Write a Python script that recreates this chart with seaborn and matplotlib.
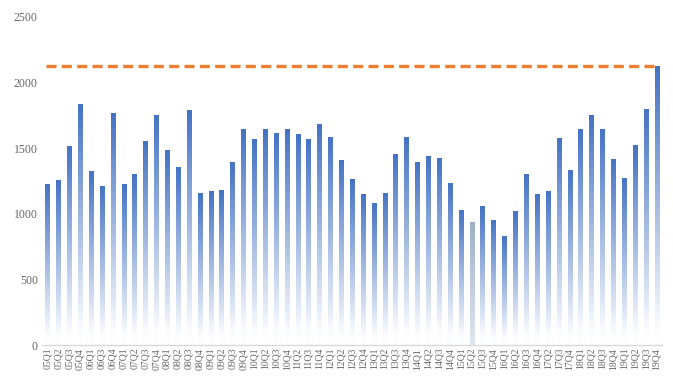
import numpy as np
import pandas as pd
import matplotlib
matplotlib.use("Agg")
import matplotlib.pyplot as plt
import seaborn as sns
from matplotlib.colors import LinearSegmentedColormap

quarters = ["05Q1", "05Q2", "05Q3", "05Q4", "06Q1", "06Q3", "06Q4",
            "07Q1", "07Q2", "07Q3", "07Q4", "08Q1", "08Q2", "08Q3", "08Q4",
            "09Q1", "09Q2", "09Q3", "09Q4", "10Q1", "10Q2", "10Q3", "10Q4",
            "11Q2", "11Q3", "11Q4", "12Q1", "12Q2", "12Q3", "12Q4",
            "13Q1", "13Q2", "13Q3", "13Q4", "14Q1", "14Q2", "14Q3", "14Q4",
            "15Q1", "15Q2", "15Q3", "15Q4", "16Q1", "16Q2", "16Q3", "16Q4",
            "17Q2", "17Q3", "17Q4", "18Q1", "18Q2", "18Q3", "18Q4",
            "19Q1", "19Q2", "19Q3", "19Q4"]
values = [1227, 1258, 1517, 1837, 1326, 1212, 1768,
          1227, 1303, 1555, 1753, 1486, 1357, 1791, 1158,
          1174, 1181, 1395, 1646, 1570, 1646, 1616, 1646,
          1608, 1570, 1684, 1585, 1410, 1265, 1151,
          1082, 1159, 1456, 1585, 1395, 1441, 1425, 1235,
          1029, 937, 1059, 953, 831, 1021, 1303, 1151,
          1174, 1578, 1334, 1646, 1753, 1646, 1418,
          1273, 1524, 1799, 2125]
reference_level = 2125
y_ticks = [0, 500, 1000, 1500, 2000, 2500]

df = pd.DataFrame({"quarter": quarters, "value": values})

sns.set_theme(style="white")
plt.rcParams["font.family"] = ["Liberation Serif", "DejaVu Serif"]

fig = plt.figure(figsize=(6.73, 3.80), dpi=100)
ax = fig.add_axes([0.0624, 0.0921, 0.9213, 0.8632])

sns.barplot(data=df, x="quarter", y="value", width=0.38, color="#4472C4",
            ax=ax, errorbar=None)

blue_cmap = LinearSegmentedColormap.from_list(
    "bg", [(0.0, "#FFFFFF"), (0.06, "#FBFCFE"), (1.0, "#4472C4")])
grey_cmap = LinearSegmentedColormap.from_list("gg", ["#E2E7EF", "#9FB0CA"])
grad = np.linspace(0, 1, 256).reshape(-1, 1)

for patch, q in zip(ax.patches, quarters):
    x0 = patch.get_x()
    w = patch.get_width()
    h = patch.get_height()
    patch.set_facecolor("none")
    patch.set_edgecolor("none")
    cmap = grey_cmap if q == "15Q2" else blue_cmap
    im = ax.imshow(grad, cmap=cmap, aspect="auto", origin="lower",
                   extent=[x0, x0 + w, 0, h], zorder=2, vmin=0, vmax=1)
    im.set_clip_path(patch)

ax.plot([0 - 0.1, len(quarters) - 1 + 0.1], [reference_level, reference_level],
        color="#ED7D31", lw=2.4, ls=(0, (3, 1.6)), zorder=3,
        solid_capstyle="butt", dash_capstyle="butt")

ax.set_xlim(-0.5, len(quarters) - 0.5)
ax.set_ylim(0, 2500)
ax.set_yticks(y_ticks)
ax.set_yticklabels([str(t) for t in y_ticks], fontsize=8.5, color="#666666")
ax.set_xticks(range(len(quarters)))
ax.set_xticklabels(quarters, rotation=90, fontsize=7, color="#666666")
ax.tick_params(axis="both", length=0, pad=3)
ax.tick_params(axis="x", pad=2)
ax.set_xlabel("")
ax.set_ylabel("")
for side in ["top", "right", "left"]:
    ax.spines[side].set_visible(False)
ax.spines["bottom"].set_color("#D9D9D9")
ax.spines["bottom"].set_linewidth(1.0)
ax.grid(False)

fig.savefig("out.png", dpi=100)
